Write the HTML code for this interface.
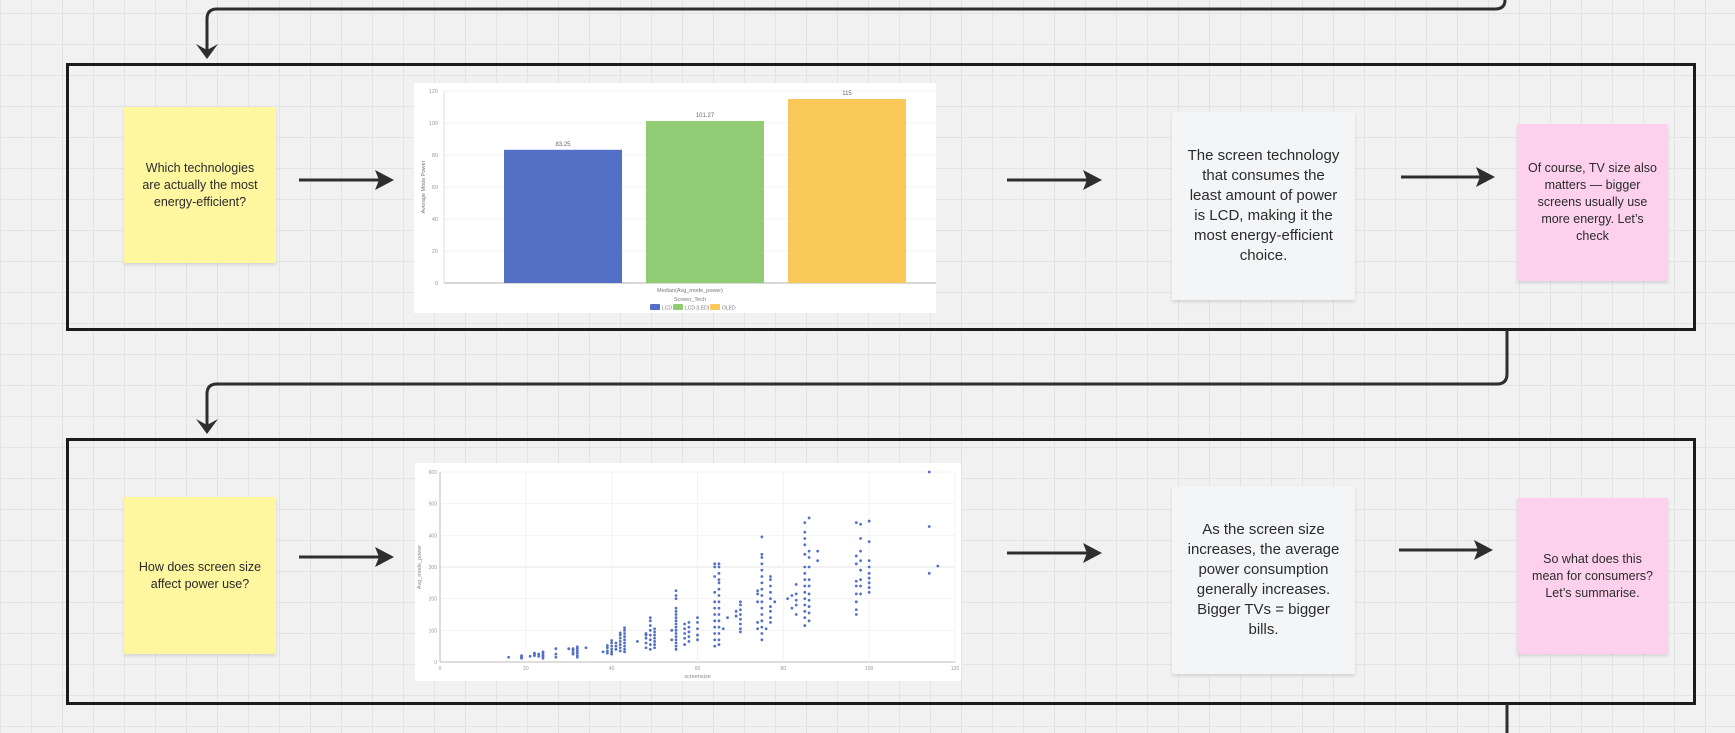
<!DOCTYPE html>
<html><head><meta charset="utf-8">
<style>
html,body{margin:0;padding:0;}
body{width:1735px;height:733px;position:relative;overflow:hidden;background-color:#f1f1f1;
background-image:linear-gradient(to right,#e3e3e3 1px,transparent 1px),linear-gradient(to bottom,#e3e3e3 1px,transparent 1px);
background-size:31px 31px;background-position:0px 13px;font-family:"Liberation Sans","Noto Sans CJK SC",sans-serif;}
.frame{position:absolute;border:3px solid #1b1b1b;box-sizing:border-box;}
.note{position:absolute;display:flex;align-items:center;justify-content:center;text-align:center;color:#2b2b2b;box-sizing:border-box;box-shadow:0 2px 3px rgba(0,0,0,0.12);white-space:nowrap;}
.y{background:#fff6a0;font-size:12.5px;line-height:17px;}
.g{background:#f4f5f7;font-size:15px;line-height:20px;}
.p{background:#fdd1ee;font-size:12.5px;line-height:17px;}
.chart{position:absolute;background:#fff;}
svg text{font-family:"Liberation Sans",sans-serif;}
</style></head><body>
<div class="frame" style="left:66px;top:63px;width:1630px;height:268px;"></div>
<div class="frame" style="left:66px;top:438px;width:1630px;height:267px;"></div>

<svg width="1735" height="733" style="position:absolute;left:0;top:0;">
<g fill="none" stroke="#2e2e2e" stroke-width="3">
<path d="M1505,0 L1505,0 Q1505,9 1495,9 L217,9 Q207,9 207,19 L207,50"/>
<path d="M196,44 L207,59 L218,44 L207,50 Z" fill="#2e2e2e" stroke="none"/>
<path d="M1507,330 L1507,374 Q1507,384 1497,384 L217,384 Q207,384 207,394 L207,425"/>
<path d="M196,419 L207,434 L218,419 L207,425 Z" fill="#2e2e2e" stroke="none"/>
<path d="M1507,704 L1507,733"/>
<g>
<path d="M299,180 L385,180"/><path d="M1007,180 L1093,180"/><path d="M1401,177 L1486,177"/>
<path d="M299,557 L385,557"/><path d="M1007,553 L1093,553"/><path d="M1399,550 L1484,550"/>
</g></g>
<g fill="#2e2e2e">
<path d="M375,170 L394,180 L375,190 L379,180Z"/><path d="M1083,170 L1102,180 L1083,190 L1087,180Z"/><path d="M1476,167 L1495,177 L1476,187 L1480,177Z"/>
<path d="M375,547 L394,557 L375,567 L379,557Z"/><path d="M1083,543 L1102,553 L1083,563 L1087,553Z"/><path d="M1474,540 L1493,550 L1474,560 L1478,550Z"/>
</g>
</svg>

<div class="note y" style="left:124px;top:107px;width:152px;height:156px;"><div>Which technologies<br>are actually the most<br>energy-efficient?</div></div>
<div class="note g" style="left:1172px;top:112px;width:183px;height:188px;"><div>The screen technology<br>that consumes the<br>least amount of power<br>is LCD, making it the<br>most energy-efficient<br>choice.</div></div>
<div class="note p" style="left:1517px;top:124px;width:151px;height:157px;"><div>Of course, TV size also<br>matters — bigger<br>screens usually use<br>more energy. Let’s<br>check</div></div>

<div class="note y" style="left:124px;top:497px;width:152px;height:157px;"><div>How does screen size<br>affect power use?</div></div>
<div class="note g" style="left:1172px;top:486px;width:183px;height:188px;"><div>As the screen size<br>increases, the average<br>power consumption<br>generally increases.<br>Bigger TVs = bigger<br>bills.</div></div>
<div class="note p" style="left:1517px;top:498px;width:151px;height:156px;"><div>So what does this<br>mean for consumers?<br>Let’s summarise.</div></div>

<div class="chart" style="left:414px;top:83px;width:522px;height:230px;">
<svg id="bar" width="522" height="230"></svg></div>
<div class="chart" style="left:415px;top:463px;width:546px;height:218px;">
<svg id="sc" width="546" height="218"></svg></div>

<script>
const barCats = ["LCD","LCD (LED)","OLED"];
const barVals = [83.25,101.27,115];
const barColors = ["#5470c6","#91cc75","#fac858"];
const barTicks = [0,20,40,60,80,100,120];

const scX = [16,19,19,19,19,21,22,22,22,23,23,24,24,24,24,24,27,27,27,30,31,31,31,31,32,32,32,32,32,32,34,38,39,39,39,39,40,40,40,40,40,40,41,41,41,42,42,42,42,42,42,42,43,43,43,43,43,43,43,43,43,46,48,48,48,48,48,49,49,49,49,49,49,49,49,50,50,50,50,50,50,50,54,54,55,55,55,55,55,55,55,55,55,55,55,55,55,55,55,55,55,57,57,57,57,57,58,58,58,58,58,60,60,60,60,60,64,64,64,64,64,64,64,64,64,64,64,64,65,65,65,65,65,65,65,65,65,65,65,65,65,65,65,66,67,69,69,70,70,70,70,70,70,70,70,74,74,74,74,74,75,75,75,75,75,75,75,75,75,75,75,75,75,75,75,75,76,77,77,77,77,77,77,77,77,77,78,81,82,82,83,83,83,83,83,85,85,85,85,85,85,85,85,85,85,85,85,85,85,85,86,86,86,86,86,86,86,86,86,86,86,88,88,97,97,97,97,97,97,97,97,97,98,98,98,98,98,98,98,98,100,100,100,100,100,100,100,100,100,114,114,114,116];
const scY = [15,12,15,18,20,18,20,25,28,18,25,12,18,22,28,32,15,25,42,42,25,30,38,42,15,20,28,35,42,48,45,32,28,35,45,52,25,32,40,50,60,68,40,50,60,35,45,55,65,75,85,92,32,40,50,60,70,80,90,100,108,65,45,60,75,85,90,40,55,70,85,100,115,130,140,45,55,65,75,85,95,105,70,100,40,50,60,70,80,90,100,110,120,130,140,150,160,170,200,210,225,55,75,90,105,120,65,80,95,110,125,70,85,105,125,140,50,70,90,110,130,150,170,190,220,270,300,310,55,70,90,110,130,150,170,190,210,230,250,260,280,300,310,105,140,145,160,95,105,120,135,150,165,180,190,105,125,190,215,225,70,90,110,130,150,170,190,210,230,250,270,290,310,330,340,395,105,125,140,160,175,200,220,240,260,270,190,200,170,210,150,180,195,215,245,115,140,160,180,200,220,240,260,280,300,340,370,390,410,440,130,155,175,195,215,240,260,300,330,350,455,320,350,150,165,190,215,240,255,310,335,440,215,240,260,290,320,350,390,435,220,235,250,265,280,300,320,380,445,280,428,600,303];
const scXTicks = [0,20,40,60,80,100,120];
const scYTicks = [0,100,200,300,400,500,600];

const NS="http://www.w3.org/2000/svg";
function mk(svg,tag,at,txt){const e=document.createElementNS(NS,tag);for(const k in at)e.setAttribute(k,at[k]);if(txt!==undefined)e.textContent=txt;svg.appendChild(e);return e;}

(function(){
const s=document.getElementById('bar');
const L=30,R=522,T=8,B=200;
const y=v=>B-(v/120)*(B-T);
const xc=i=>L+119+i*142;
const bw=118;
barTicks.forEach(t=>{
 const g=mk(s,'line',{x1:L,x2:R,y1:y(t),y2:y(t),stroke:t===0?'#ccc':'#f0f0f0','stroke-width':t===0?1.5:1});
 
 
 const tx=mk(s,'text',{x:L-6,y:y(t)+2,'font-size':5.5,fill:'#999','text-anchor':'end'},t);
 
 
});
mk(s,'line',{x1:L,x2:L,y1:T,y2:B,stroke:'#ddd'});
barVals.forEach((v,i)=>{
 const r=mk(s,'rect',{x:xc(i)-bw/2,y:y(v),width:bw,height:B-y(v),fill:barColors[i]});
 
 
 const t=mk(s,'text',{x:xc(i),y:y(v)-4,'font-size':6,fill:'#666','text-anchor':'middle'},String(v));
 
 
});
const xt=mk(s,'text',{x:276,y:209,'font-size':5.5,fill:'#777','text-anchor':'middle'},'Median(Avg_mode_power)');


const lt=mk(s,'text',{x:276,y:218,'font-size':5.5,fill:'#777','text-anchor':'middle'},'Screen_Tech');


const lx=[236,259,296];
barCats.forEach((c,i)=>{
 const r=mk(s,'rect',{x:lx[i],y:221,width:10,height:6,rx:1,fill:barColors[i]});
 
 
 mk(s,'text',{x:lx[i]+12,y:226.5,'font-size':5,fill:'#777'},c);
});
const yt=mk(s,'text',{x:0,y:0,'font-size':5.5,fill:'#777','text-anchor':'middle',transform:'translate(11,104) rotate(-90)'},'Average Mode Power');


})();

(function(){
const s=document.getElementById('sc');
const L=25,R=540,T=9,B=199;
const x=v=>L+v/120*(R-L);
const y=v=>B-v/600*(B-T);
scYTicks.forEach(t=>{
 const g=mk(s,'line',{x1:L,x2:R,y1:y(t),y2:y(t),stroke:t===0?'#bbb':(t===300?'#e6e6e6':'#f3f3f3'),'stroke-width':1});
 
 
 const tx=mk(s,'text',{x:L-3,y:y(t)+2,'font-size':5,fill:'#999','text-anchor':'end'},t);
 
 
});
scXTicks.forEach(t=>{
 const g=mk(s,'line',{x1:x(t),x2:x(t),y1:T,y2:B,stroke:'#f3f3f3'});
 
 
 const tx=mk(s,'text',{x:x(t),y:B+8,'font-size':5,fill:'#999','text-anchor':'middle'},t);
 
 
});
mk(s,'line',{x1:L,x2:L,y1:T,y2:B,stroke:'#bbb'});
scX.forEach((v,i)=>{
 const c=mk(s,'circle',{cx:x(v),cy:y(scY[i]),r:1.4,fill:'#5470c6'});
 
 
});
const xt=mk(s,'text',{x:x(60),y:215,'font-size':5.5,fill:'#888','text-anchor':'middle'},'screensize');


const yt=mk(s,'text',{x:0,y:0,'font-size':5.5,fill:'#888','text-anchor':'middle',transform:'translate(6,104) rotate(-90)'},'Avg_mode_power');


})();
</script>
</body></html>
